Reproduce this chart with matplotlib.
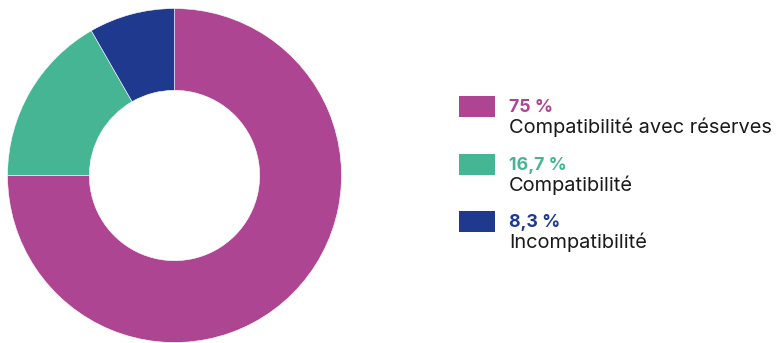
import matplotlib
matplotlib.use("Agg")
import matplotlib.pyplot as plt
from matplotlib.patches import Rectangle

# Data
categories = ["Compatibilité avec réserves", "Compatibilité", "Incompatibilité"]
shares = [75, 16.7, 8.3]
colors = ["#AE4592", "#45B594", "#1E398E"]

W, H = 776, 343
fig = plt.figure(figsize=(W / 100, H / 100), dpi=100)
fig.patch.set_facecolor("white")

# Donut: centre (174.5, 175.5) px from top-left, outer radius 167 px
cx, cy, r = 174.5, 175.5, 167
ax = fig.add_axes([(cx - r) / W, (H - cy - r) / H, 2 * r / W, 2 * r / H])
ax.pie(shares, colors=colors, startangle=90, counterclock=False, radius=1,
       wedgeprops=dict(width=0.49, edgecolor="white", linewidth=0.4))
ax.set_xlim(-1, 1)
ax.set_ylim(-1, 1)
ax.set_aspect("auto")
ax.axis("off")

# Legend drawn in pixel coordinates
lg = fig.add_axes([0, 0, 1, 1])
lg.set_xlim(0, W)
lg.set_ylim(H, 0)
lg.axis("off")

font = "Inter"
y0, step = 96, 57.6
for i, (cat, val, col) in enumerate(zip(categories, shares, colors)):
    top = y0 + i * step
    lg.add_patch(Rectangle((459, top), 36, 21, facecolor=col, edgecolor="none"))
    pct = f"{val:g}".replace(".", ",") + " %"
    lg.text(509, top + 16, pct, color=col, fontsize=12.8, fontweight="bold",
            family=font, va="baseline", ha="left")
    lg.text(509, top + 37, cat, color="#1a1a1a", fontsize=14.4,
            family=font, va="baseline", ha="left")

fig.savefig("out.png", dpi=100, facecolor="white")
